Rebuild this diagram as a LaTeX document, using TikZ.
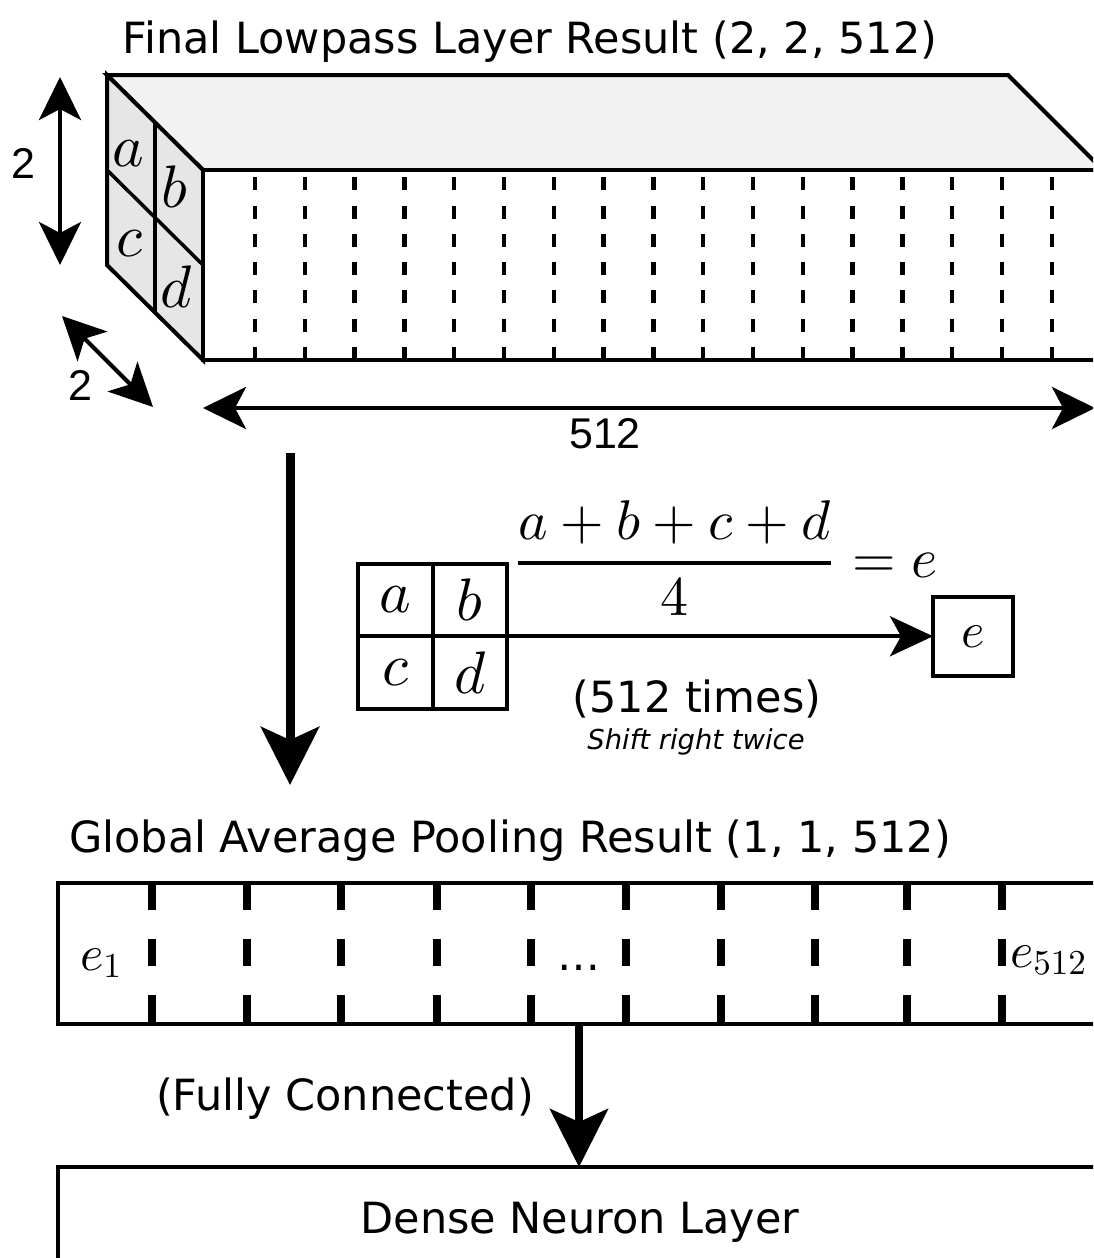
\documentclass[tikz,border=0pt]{standalone}
\usepackage{fix-cm}
\usepackage{amsmath}
\usepackage[no-math]{fontspec}
\setmainfont{DejaVu Sans}[ItalicFont={DejaVu Sans Oblique}]
\newfontfamily\dimfont{Liberation Sans}
% scale the 10pt math design size to every size (heavier strokes)
\DeclareFontShape{OML}{cmm}{m}{it}{<-> cmmi10}{}
\DeclareFontShape{OT1}{cmr}{m}{n}{<-> cmr10}{}
\usetikzlibrary{arrows.meta}
\definecolor{sidegray}{HTML}{E6E6E6}
\definecolor{topgray}{HTML}{F2F2F2}

\tikzset{
  edge/.style={line width=4pt, line join=miter},
  txt/.style={font=\fontsize{43}{52}\selectfont, inner sep=0pt},
  dimtxt/.style={font=\dimfont\fontsize{43}{52}\selectfont, inner sep=0pt},
  smalltxt/.style={font=\fontsize{27.4}{33}\selectfont\itshape, inner sep=0pt},
  bigmath/.style={font=\fontsize{60}{70}\selectfont, inner sep=0pt},
  emath/.style={font=\fontsize{50}{60}\selectfont, inner sep=0pt},
  slotline/.style={line width=4.5pt, dash pattern=on 13pt off 15.3pt},
  cutline/.style={line width=8pt, dash pattern=on 27pt off 29pt},
  dimtip/.tip={Stealth[length=43pt,width=42pt,inset=11pt]},
  dimarrow/.style={line width=4pt, {dimtip}-{dimtip}},
  thinflow/.style={line width=4pt, -{Stealth[length=43pt,width=40pt,inset=11pt]}},
  flow/.style={line width=9pt, -{Stealth[length=58pt,width=58pt,inset=13pt]}},
  cell/.style={draw, line width=4pt, outer sep=0pt, minimum width=74.5pt,
    minimum height=72.5pt, inner sep=0pt, font=\fontsize{60}{70}\selectfont},
  panel/.style={draw, line width=4pt, outer sep=0pt, inner sep=0pt, anchor=north west},
}

\begin{document}
\begin{tikzpicture}[x=1pt, y=-1pt]
\useasboundingbox (0,0) rectangle (1093,1258);
\clip (0,0) rectangle (1093,1258);

% ---- feature block 2 x 2 x 512 ----
\filldraw[edge, fill=topgray] (107,75) -- (1008,75) -- (1103,170) -- (203,170) -- cycle;
\filldraw[edge, fill=sidegray] (107,75) -- (203,170) -- (203,360) -- (107,265) -- cycle;
\draw[edge, fill=white] (203,170) rectangle (1140,360);
\foreach \i in {0,...,16}
  \draw[slotline] ({255+49.8*\i},360) -- ({255+49.8*\i},170);
\draw[line width=3.5pt] (107,170) -- (203,265);
\draw[line width=3.5pt] (155,123) -- (155,313);
\node[bigmath] (fa) at (128,154) {$a$};
\node[bigmath] (fb) at (174,187) {$b$};
\node[bigmath] (fc) at (129,244) {$c$};
\node[bigmath] (fd) at (176,287) {$d$};

% ---- dimension arrows ----
\coordinate (hTop) at (60,77);
\coordinate (hBot) at (60,265);
\draw[dimarrow] (hTop) -- (hBot);
\node[dimtxt, anchor=base] (hLab) at (23.5,178) {2};

\coordinate (dTop) at (62,316);
\coordinate (dBot) at (153,407);
\draw[dimarrow] (dTop) -- (dBot);
\node[dimtxt, anchor=base] (dLab) at (80,400) {2};

\coordinate (wLeft) at (203,408);
\coordinate (wRight) at (1095,408);
\draw[dimarrow] (wLeft) -- (wRight);
\node[dimtxt, anchor=base] (wLab) at (605,448) {512};

\node[txt, anchor=base] (title1) at (530,53) {Final Lowpass Layer Result (2, 2, 512)};

% ---- pooling step ----
\coordinate (downStart) at (290,453);
\coordinate (downEnd) at (290,785);
\draw[flow] (downStart) -- (downEnd);

\node[cell] (g11) at (395.25,600) {$a$};
\node[cell] (g12) at (469.75,600) {$b$};
\node[cell] (g21) at (395.25,672.5) {$c$};
\node[cell] (g22) at (469.75,672.5) {$d$};

\node[draw, line width=4pt, outer sep=0pt, inner sep=0pt, minimum width=80pt,
  minimum height=79pt, emath] (ebox) at (973,636.5) {$e$};
\draw[thinflow] (g12.south east) -- (g12.south east -| ebox.west);

\node[anchor=base west, inner sep=0pt, font=\fontsize{56}{64}\selectfont] (formula)
  at (517,577) {$\genfrac{}{}{4pt}{0}{a+b+c+d}{4}\mkern1.5mu=e$};

\node[txt, anchor=base] (times) at (697,712) {(512 times)};
\node[smalltxt, anchor=base] (shift) at (696,749) {Shift right twice};

% ---- pooled vector 1 x 1 x 512 ----
\node[txt, anchor=base] (title2) at (510,852) {Global Average Pooling Result (1, 1, 512)};
\node[panel, minimum width=1070pt, minimum height=141pt] (gap) at (58,883) {};
\foreach \x in {152,247,341,437,531,626,721,815,907,1002}
  \draw[cutline] (\x,883) -- (\x,1024);
\node[emath, anchor=base west] (e1) at (80,970) {$e_1$};
\node[emath, anchor=base west] (elast) at (1010,967) {$e_{512}$};
\node[txt, anchor=base] (dots) at (579,970) {…};

% ---- dense layer ----
\node[panel, minimum width=1070pt, minimum height=200pt] (dense) at (58,1167) {};
\node[txt, anchor=base] (denseLab) at (580,1233) {Dense Neuron Layer};
\coordinate (fcx) at (579,0);
\draw[flow, line width=8pt] (gap.south -| fcx) -- (dense.north -| fcx);
\node[txt, anchor=base] (fcLab) at (345,1110) {(Fully Connected)};
\end{tikzpicture}
\end{document}
